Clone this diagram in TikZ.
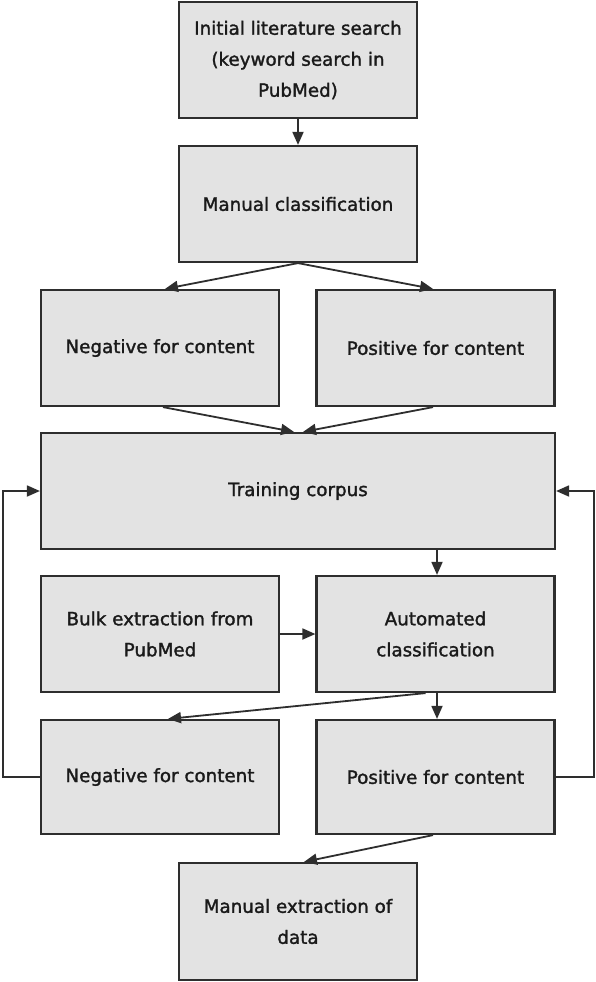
\documentclass[tikz,border=0pt]{standalone}
\usepackage{fontspec}
\setmainfont{DejaVu Sans}
\newfontfamily\boxfont{DejaVu Sans}[BoldFont={DejaVu Sans},BoldFeatures={FakeBold=1.6}]
\usetikzlibrary{arrows.meta}
\definecolor{boxfill}{HTML}{E3E3E3}
\definecolor{boxline}{HTML}{2E2E2E}
\definecolor{txt}{HTML}{1A1A1A}
\begin{document}
\begin{tikzpicture}[x=1pt,y=-1pt,
  box/.style={draw=boxline,fill=boxfill,line width=2.2pt,minimum width=238pt,minimum height=116pt,
    inner sep=0pt,align=center,text=txt,font=\boxfont\bfseries\fontsize{18.3}{31}\selectfont},
  conn/.style={draw=boxline,line width=1.8pt,-{Triangle[length=13pt,width=11pt]}}]
\useasboundingbox (0,0) rectangle (596,982);
\node[box] (n1) at (298,60) {Initial literature search\\(keyword search in\\PubMed)};
\node[box] (n2) at (298,204) {Manual classification};
\node[box] (n3) at (160,348) {Negative for content};
\node[box] (n4) at (435.5,348) {Positive for content};
\node[box,minimum width=514pt] (n5) at (298,491) {Training corpus};
\node[box] (n6) at (160,634) {Bulk extraction from\\PubMed};
\node[box] (n7) at (435.5,634) {Automated\\classification};
\node[box,minimum height=114pt] (n8) at (160,777) {Negative for content};
\node[box,minimum height=114pt] (n9) at (435.5,777) {Positive for content};
\node[box,minimum height=117pt] (n10) at (298,921.5) {Manual extraction of\\data};
\draw[conn] (n1.south) -- (n2.north);
\draw[conn] (n2.south) -- ([xshift=5pt]n3.north);
\draw[conn] (n2.south) -- ([xshift=-2.5pt]n4.north);
\draw[conn] ([xshift=3pt]n3.south) -- ([xshift=-4pt]n5.north);
\draw[conn] ([xshift=-2.5pt]n4.south) -- ([xshift=5pt]n5.north);
\draw[conn] ([xshift=139pt]n5.south) -- ([xshift=1.5pt]n7.north);
\draw[conn] (n6.east) -- (n7.west);
\draw[conn] ([xshift=-10pt]n7.south) -- ([xshift=8pt]n8.north);
\draw[conn] ([xshift=1.5pt]n7.south) -- ([xshift=1.5pt]n9.north);
\draw[conn] ([xshift=-2.5pt]n9.south) -- ([xshift=6pt]n10.north);
\draw[conn] (n8.west) -- ++(-37,0) |- (n5.west);
\draw[conn] (n9.east) -- ++(38,0) |- (n5.east);
\end{tikzpicture}
\end{document}
